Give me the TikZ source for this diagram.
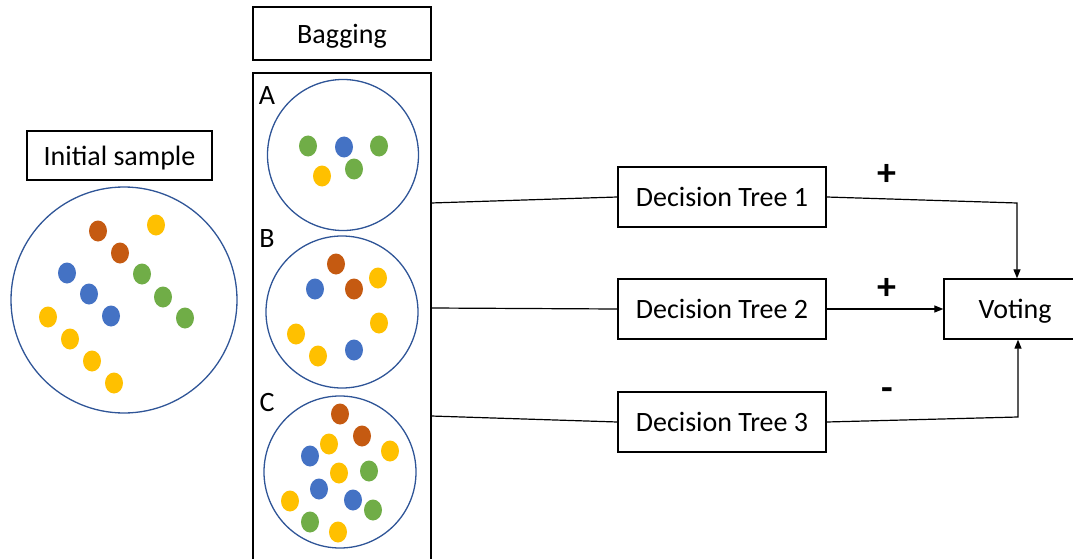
\documentclass[tikz,border=0pt]{standalone}
\usepackage{fontspec}
\setmainfont{Carlito}
\usepackage{xcolor}
\usetikzlibrary{arrows.meta, positioning}

\definecolor{ringblue}{HTML}{2F5597}
\definecolor{dotbrown}{HTML}{C55A11}
\definecolor{dotyellow}{HTML}{FFC000}
\definecolor{dotblue}{HTML}{4472C4}
\definecolor{dotgreen}{HTML}{70AD47}

\tikzset{
    box/.style={draw, line width=1.3pt, rectangle, inner sep=0pt},
    ring/.style={draw=ringblue, line width=1.3pt, circle, inner sep=0pt},
    link/.style={line width=1.2pt},
    vote/.style={line width=1.2pt, -{Triangle[length=9pt,width=7pt]}},
    sign/.style={font=\fontsize{38}{40}\selectfont\bfseries, inner sep=0pt},
}

\begin{document}
\begin{tikzpicture}[x=1pt, y=-1pt, font=\fontsize{28}{32}\selectfont]
            \useasboundingbox (0,0) rectangle (1073,559);
            % initial sample
            \node[box, text depth=0pt, minimum width=185pt, minimum height=49pt] (init) at (119.5,155.5) {Initial sample};
            \node[ring, minimum size=226pt] (pool) at (124,300) {};
            \foreach \x/\y/\c in {98/231/dotbrown, 120/253/dotbrown, 156/225/dotyellow,
                67/273/dotblue, 89/294/dotblue, 111/316/dotblue,
                142/274/dotgreen, 163/297/dotgreen, 185/318/dotgreen,
                48/317/dotyellow, 70/339/dotyellow, 92/361/dotyellow, 114/383/dotyellow}
                \fill[\c] (\x,\y) ellipse (9 and 10.5);
            % bagging column
            \node[box, text depth=0pt, minimum width=178pt, minimum height=53pt] (bagtitle) at (342,33.5) {Bagging};
            \node[box, minimum width=178pt, minimum height=500pt] (bag) at (342,323) {};
            \node (la) at (267,96) {A};
            \node (lb) at (267,239) {B};
            \node (lc) at (267,403) {C};
            \node[ring, minimum size=151pt] (sa) at (343,155) {};
            \node[ring, minimum size=152pt] (sb) at (342,312) {};
            \node[ring, minimum size=152pt] (sc) at (340,472) {};
            \foreach \x/\y/\c in {308/146/dotgreen, 344/147/dotblue, 379/146/dotgreen,
                322/176/dotyellow, 354/169/dotgreen,
                336/264/dotbrown, 378/278/dotyellow, 315/289/dotblue, 354/289/dotbrown,
                379/323/dotyellow, 296/334/dotyellow, 318/356/dotyellow, 354/350/dotblue,
                340/414/dotbrown, 362/436/dotbrown, 329/444/dotyellow, 390/451/dotyellow,
                310/456/dotblue, 339/473/dotyellow, 369/471/dotgreen, 319/489/dotblue,
                353/500/dotblue, 373/510/dotgreen, 290/501/dotyellow, 310/522/dotgreen,
                338/532/dotyellow}
                \fill[\c] (\x,\y) ellipse (9 and 10.5);
            % trees and voting
            \node[box, minimum width=208pt, minimum height=60pt] (dt1) at (722,197) {Decision Tree 1};
            \node[box, minimum width=208pt, minimum height=60pt] (dt2) at (722,309) {Decision Tree 2};
            \node[box, minimum width=208pt, minimum height=60pt] (dt3) at (722,422) {Decision Tree 3};
            \node[box, text depth=0pt, minimum width=142pt, minimum height=60pt] (voting) at (1015,309) {Voting};
            \coordinate (b1) at (431,203);
            \coordinate (b2) at (431,308);
            \coordinate (b3) at (431,416);
            \draw[link] (b1) -- (dt1.west);
            \draw[link] (b2) -- (dt2.west);
            \draw[link] (b3) -- (dt3.west);
            \coordinate (k1) at (1017,203);
            \coordinate (k3) at (1018,417);
            \draw[vote] (dt1.east) -- (k1) -- (k1 |- voting.north);
            \draw[vote] (dt2.east) -- (voting.west);
            \draw[vote] (dt3.east) -- (k3) -- (k3 |- voting.south);
            \node[sign] (p1) at (887,175) {+};
            \node[sign] (p2) at (887,289) {+};
            \node[sign] (p3) at (887,394) {-};
        \end{tikzpicture}
\end{document}
